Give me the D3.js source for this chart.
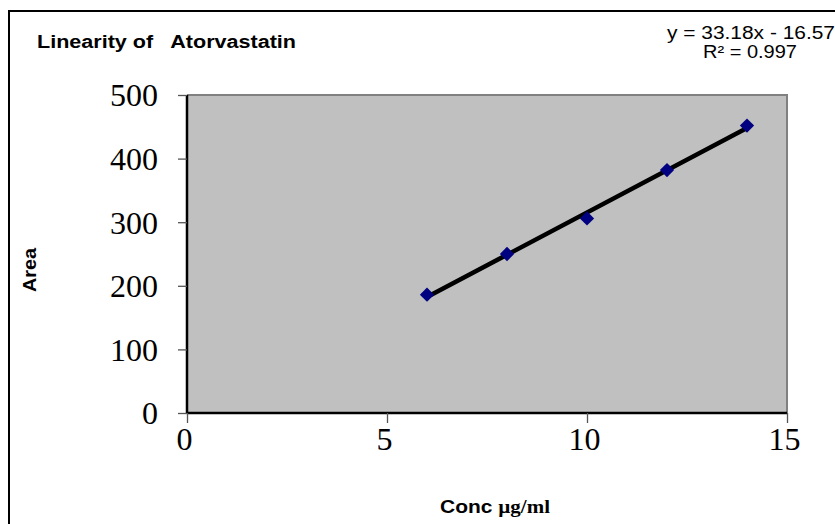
<!DOCTYPE html>
<html>
<head>
<meta charset="utf-8">
<script src="https://cdn.jsdelivr.net/npm/d3@7"></script>
<style>
  html, body { margin: 0; padding: 0; background: #fff; }
  svg { display: block; }
  text { white-space: pre; }
</style>
</head>
<body>
<svg id="chart" width="835" height="524"></svg>
<script>
// Calibration data: concentration (µg/ml) vs. peak area
const conc = [6, 8, 10, 12, 14];
const area = [186, 250, 306, 382, 452];

// Axis ticks
const xTicks = [0, 5, 10, 15];
const yTicks = [0, 100, 200, 300, 400, 500];

// Least-squares trendline as reported on the chart
const slope = 33.18;
const intercept = -16.57;
const rSquared = 0.997;

const titleText = "Linearity of   Atorvastatin";
const yLabelText = "Area";

const svg = d3.select("#chart");
const W = 835, H = 524;
const sans = "'Liberation Sans', Arial, sans-serif";
const serif = "'Liberation Serif', 'Times New Roman', serif";

// Outer chart frame (runs off the right and bottom edges)
svg.append("rect")
  .attr("x", 9).attr("y", 11)
  .attr("width", W + 20).attr("height", H + 20)
  .attr("fill", "#fff").attr("stroke", "#000").attr("stroke-width", 2);

const plot = { left: 187, right: 787, top: 95, bottom: 413 };

const x = d3.scaleLinear().domain([0, 15]).range([plot.left, plot.right]);
const y = d3.scaleLinear().domain([0, 500]).range([plot.bottom, plot.top]);

// Plot area background
svg.append("rect")
  .attr("x", plot.left).attr("y", plot.top)
  .attr("width", plot.right - plot.left).attr("height", plot.bottom - plot.top)
  .attr("fill", "#c0c0c0");

// Grey border on top and right of the plot area
svg.append("path")
  .attr("d", `M${plot.left},${plot.top}H${plot.right}V${plot.bottom}`)
  .attr("fill", "none").attr("stroke", "#808080").attr("stroke-width", 2);

// Axes
const yAxis = d3.axisLeft(y).tickValues(yTicks).tickSize(9).tickPadding(20)
  .tickFormat(d3.format("d"));
const xAxis = d3.axisBottom(x).tickValues(xTicks).tickSize(10).tickPadding(4)
  .tickFormat(d3.format("d"));

const gy = svg.append("g").attr("transform", `translate(${plot.left},0)`).call(yAxis);
const gx = svg.append("g").attr("transform", `translate(0,${plot.bottom})`).call(xAxis);

[gy, gx].forEach(g => {
  g.select(".domain").attr("stroke", "#000").attr("stroke-width", 2.5);
  g.selectAll(".tick line").attr("stroke", "#555").attr("stroke-width", 1.3);
  g.selectAll(".tick text")
    .attr("font-family", serif)
    .attr("font-size", 32).attr("fill", "#000");
});
gy.select(".domain").attr("d", `M0,${plot.top}V${plot.bottom}`);
gx.select(".domain").attr("d", `M${plot.left},0H${plot.right}`);
gy.selectAll(".tick text").attr("dy", "0.34em");
gx.selectAll(".tick text").attr("dy", "0.72em").attr("dx", -3);

// Trendline over the data range
const xMin = d3.min(conc), xMax = d3.max(conc);
svg.append("line")
  .attr("x1", x(xMin)).attr("y1", y(slope * xMin + intercept))
  .attr("x2", x(xMax)).attr("y2", y(slope * xMax + intercept))
  .attr("stroke", "#000").attr("stroke-width", 4.5).attr("stroke-linecap", "round");

// Data markers (diamonds)
const diamond = d3.symbol().type(d3.symbolDiamond2).size(130);
svg.append("g").selectAll("path")
  .data(conc.map((c, i) => [c, area[i]]))
  .join("path")
  .attr("d", diamond)
  .attr("transform", d => `translate(${x(d[0])},${y(d[1])})`)
  .attr("fill", "#000080");

// Title
svg.append("text")
  .attr("x", 37).attr("y", 48)
  .attr("font-family", sans)
  .attr("font-weight", "bold").attr("font-size", 18)
  .attr("textLength", 259).attr("lengthAdjust", "spacingAndGlyphs")
  .text(titleText);

// Regression equation
const fmtSign = intercept < 0 ? " - " : " + ";
svg.append("text")
  .attr("x", 667).attr("y", 39)
  .attr("font-family", sans).attr("font-size", 18)
  .attr("textLength", 168).attr("lengthAdjust", "spacingAndGlyphs")
  .text(`y = ${slope.toFixed(2)}x${fmtSign}${Math.abs(intercept).toFixed(2)}`);
svg.append("text")
  .attr("x", 703).attr("y", 58)
  .attr("font-family", sans).attr("font-size", 18)
  .attr("textLength", 94).attr("lengthAdjust", "spacingAndGlyphs")
  .text(`R² = ${rSquared.toFixed(3)}`);

// Axis titles
svg.append("text")
  .attr("transform", "translate(36,270) rotate(-90)")
  .attr("text-anchor", "middle")
  .attr("font-family", sans)
  .attr("font-weight", "bold").attr("font-size", 18)
  .attr("textLength", 44).attr("lengthAdjust", "spacingAndGlyphs")
  .text(yLabelText);

const xl = svg.append("text")
  .attr("x", 440).attr("y", 513)
  .attr("font-weight", "bold").attr("font-size", 18)
  .attr("textLength", 110).attr("lengthAdjust", "spacingAndGlyphs");
xl.append("tspan").attr("font-family", sans).text("Conc ");
xl.append("tspan").attr("font-family", serif).text("µg/ml");
</script>
</body>
</html>
